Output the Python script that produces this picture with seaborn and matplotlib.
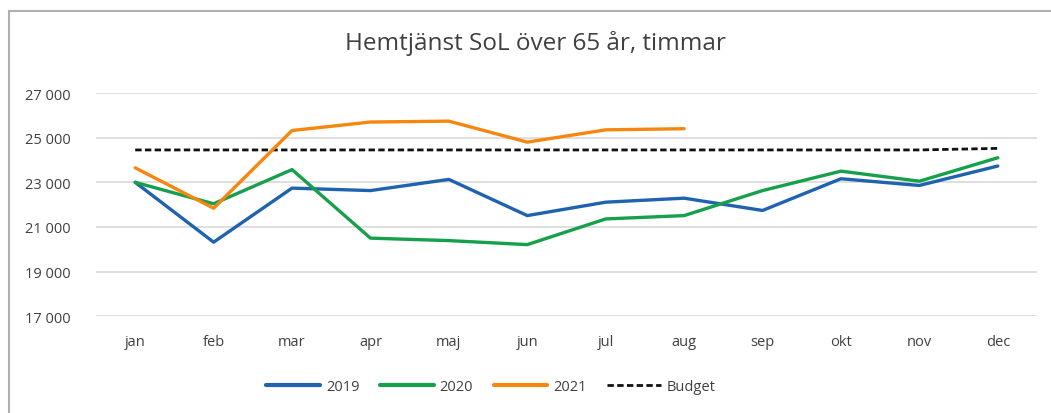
import pandas as pd
import seaborn as sns
import matplotlib.pyplot as plt
from matplotlib.lines import Line2D
from matplotlib.ticker import FuncFormatter

months = ['jan', 'feb', 'mar', 'apr', 'maj', 'jun', 'jul', 'aug', 'sep', 'okt', 'nov', 'dec']
y2019 = [23000, 20320, 22740, 22630, 23130, 21510, 22110, 22290, 21740, 23160, 22860, 23730]
y2020 = [23000, 22040, 23570, 20500, 20390, 20210, 21360, 21510, 22630, 23500, 23050, 24100]
y2021 = [23650, 21840, 25320, 25700, 25740, 24800, 25350, 25400]
budget = [24450, 24450, 24450, 24450, 24450, 24450, 24450, 24450, 24450, 24450, 24450, 24520]
yticks = [17000, 19000, 21000, 23000, 25000, 27000]

rows = []
for name, vals in [('2019', y2019), ('2020', y2020), ('2021', y2021), ('Budget', budget)]:
    for m, v in zip(months, vals):
        rows.append({'month': m, 'value': v, 'serie': name})
df = pd.DataFrame(rows)

sns.set_theme(style='white')
plt.rcParams['font.family'] = ['Open Sans', 'DejaVu Sans']

colors = {'2019': '#1F62B0', '2020': '#16A04C', '2021': '#F5860F', 'Budget': '#111111'}
dashes = {'2019': '', '2020': '', '2021': '', 'Budget': (2.3, 1.2)}
widths = {'2019': 2.4, '2020': 2.4, '2021': 2.4, 'Budget': 2.0}

fig = plt.figure(figsize=(10.51, 4.14), dpi=100)
ax = fig.add_axes([96 / 1051, 1 - 317.3 / 414, (1037 - 96) / 1051, (317.3 - 94) / 414])

for name in ['Budget', '2019', '2020', '2021']:
    sub = df[df['serie'] == name]
    sns.lineplot(data=sub, x='month', y='value', color=colors[name], lw=widths[name],
                 ax=ax, sort=False, legend=False)
    if dashes[name]:
        ax.lines[-1].set_dashes(dashes[name])

ax.set_xlim(-0.5, 11.5)
ax.set_ylim(17000, 27000)
ax.set_yticks(yticks)
ax.yaxis.set_major_formatter(FuncFormatter(lambda v, p: f'{int(v):,}'.replace(',', ' ')))
ax.grid(axis='y', color='#D9D9D9', lw=1.2)
ax.set_axisbelow(True)
for s in ax.spines.values():
    s.set_visible(False)
ax.set_xlabel('')
ax.set_ylabel('')
ax.tick_params(axis='both', length=0, labelsize=10.5, colors='#404040')
ax.tick_params(axis='x', pad=13)
ax.tick_params(axis='y', pad=18)

fig.text(535 / 1051, 1 - 43 / 414, 'Hemtjänst SoL över 65 år, timmar', ha='center', va='center',
         fontsize=17.5, color='#404040')

handles = [Line2D([], [], color=colors[n], lw=widths[n] + 0.6 if n != 'Budget' else 2.0,
                  dashes=dashes[n] if dashes[n] else (None, None)) for n in ['2019', '2020', '2021', 'Budget']]
fig.legend(handles, ['2019', '2020', '2021', 'Budget'], loc='center', bbox_to_anchor=(491 / 1051, 1 - 388 / 414),
           ncol=4, frameon=False, fontsize=10.5, handlelength=3.7, columnspacing=1.4, handletextpad=0.4,
           labelcolor='#404040')

# outer chart border (top and left visible)
fig.add_artist(Line2D([9 / 1051, 1], [1 - 12 / 414, 1 - 12 / 414], color='#AFAFAF', lw=1.5))
fig.add_artist(Line2D([9 / 1051, 9 / 1051], [0, 1 - 12 / 414], color='#AFAFAF', lw=1.5))

fig.savefig('out.png', dpi=100)
